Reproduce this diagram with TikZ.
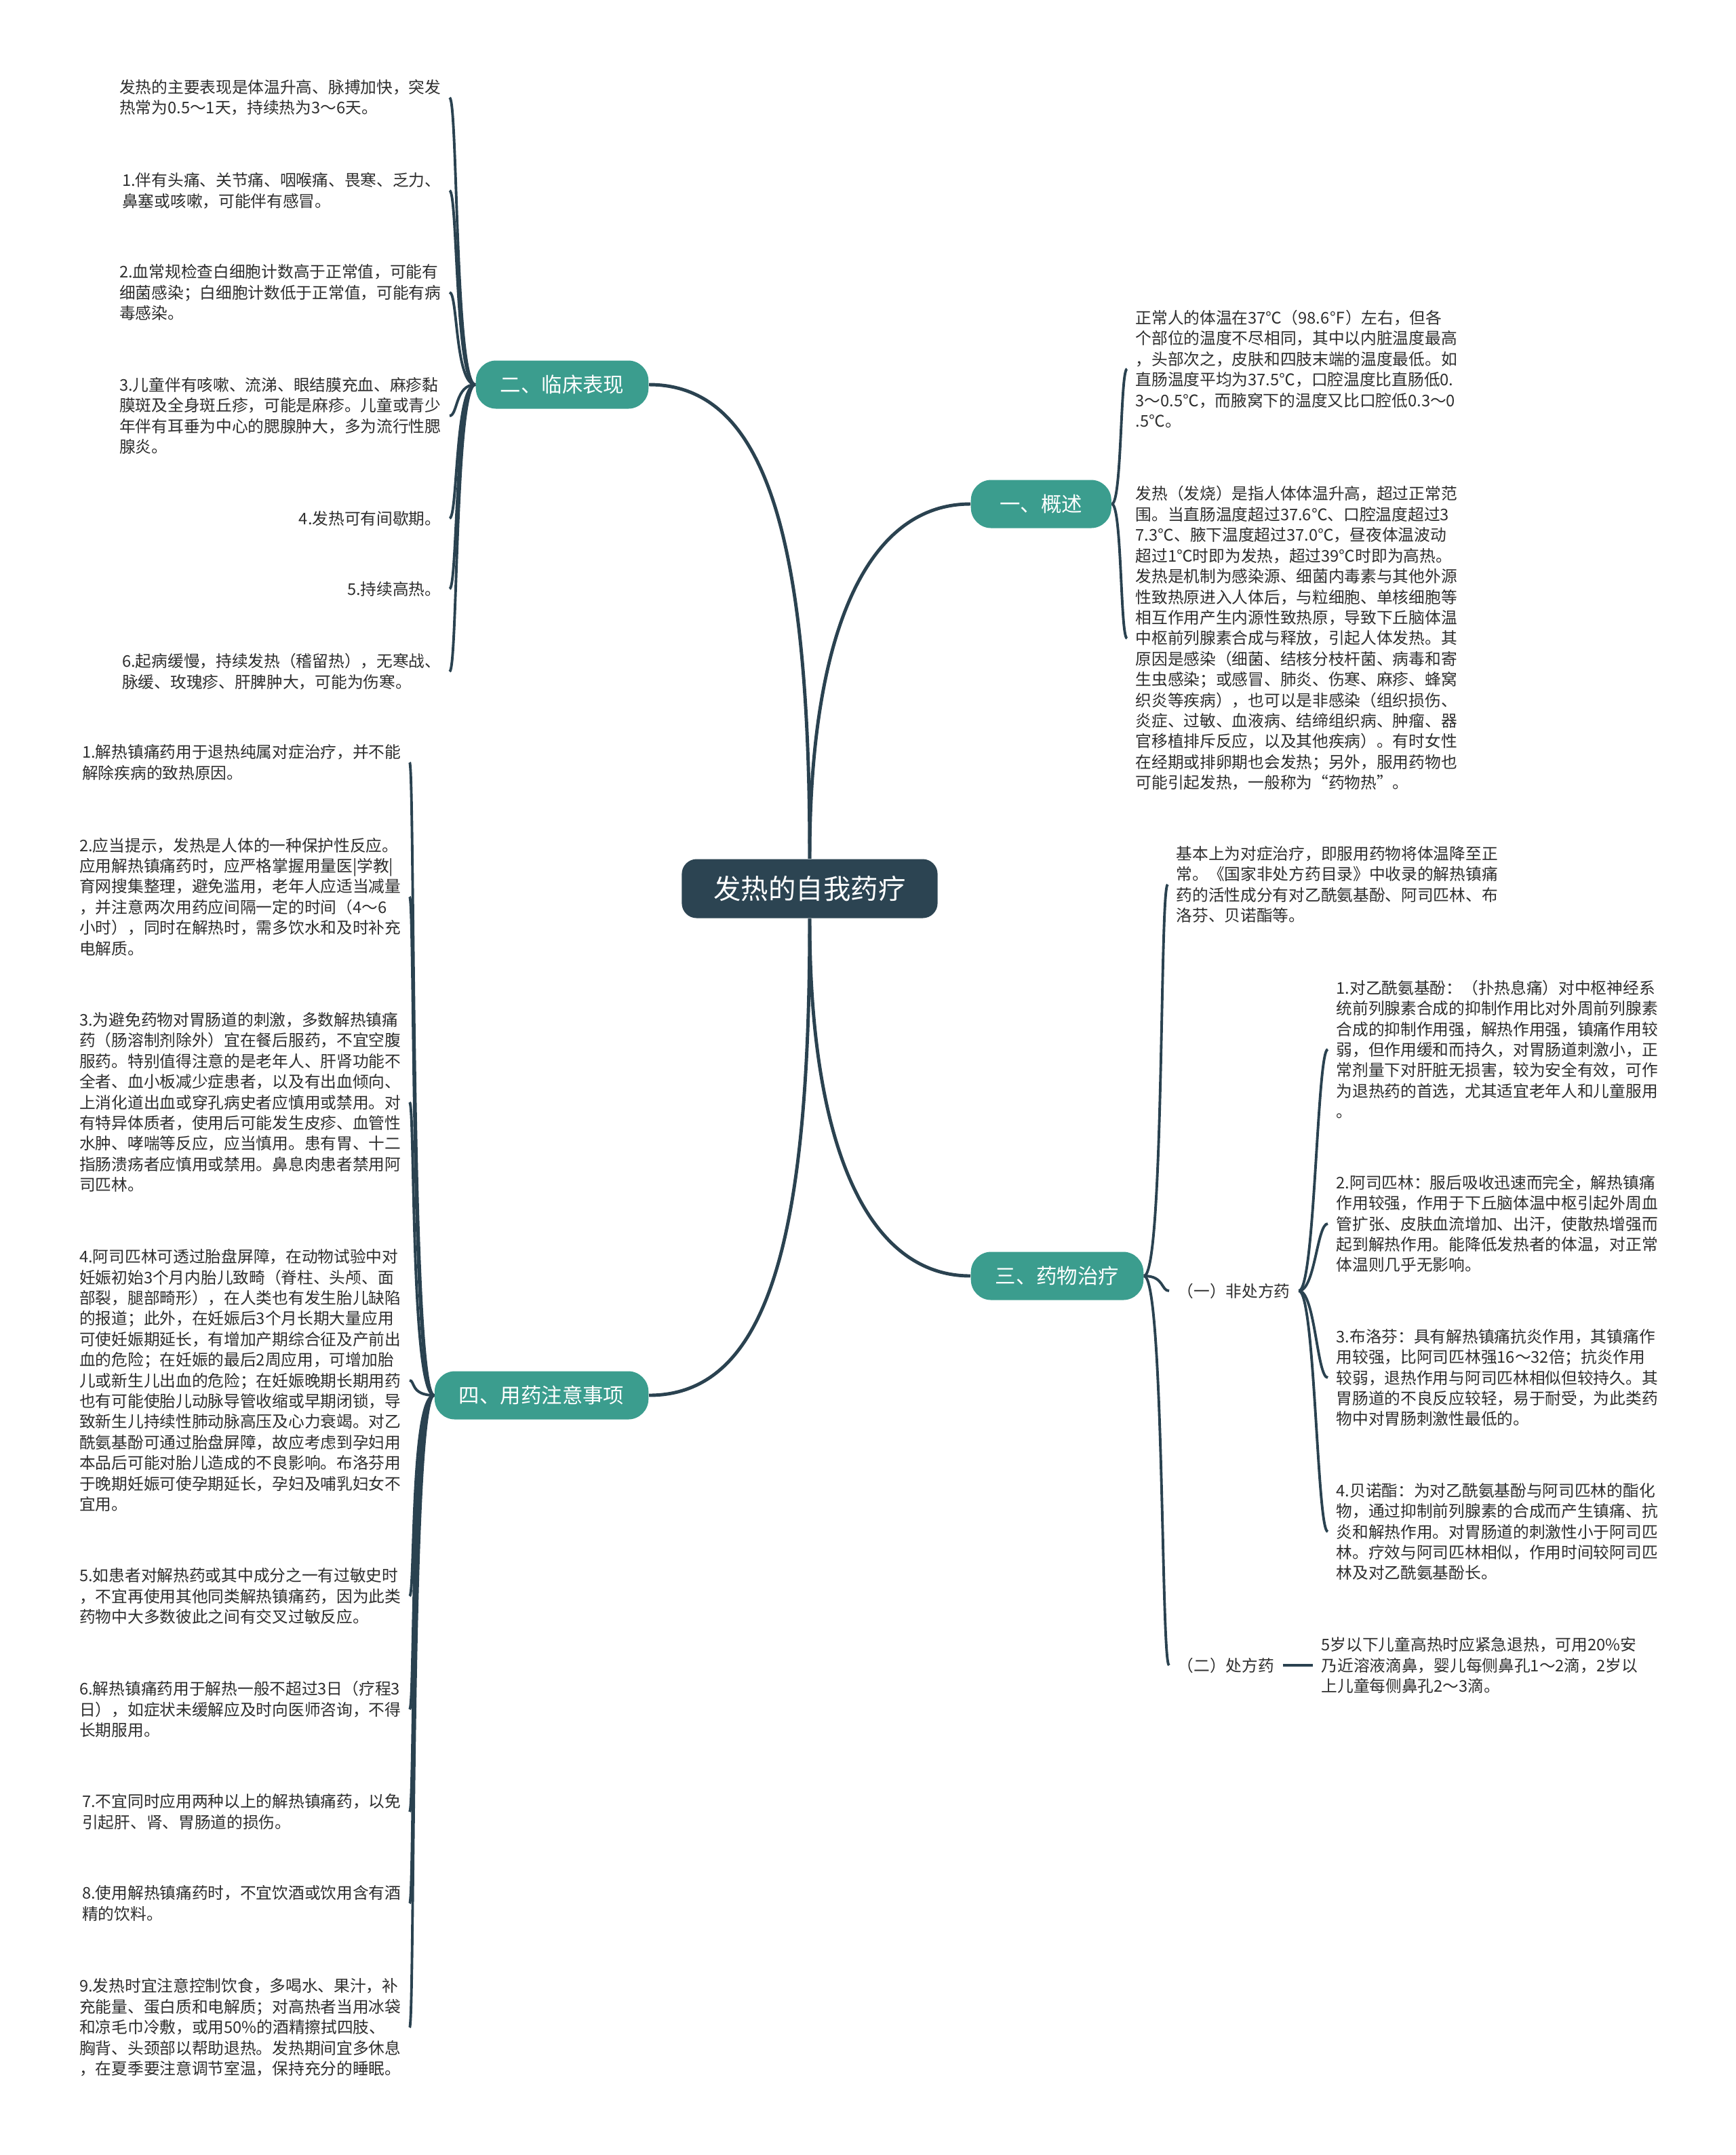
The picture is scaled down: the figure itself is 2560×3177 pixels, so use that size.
\documentclass[tikz,border=0pt]{standalone}
\usepackage{fontspec}
\setmainfont{Noto Sans CJK SC}
\usepackage{tikz}
\usetikzlibrary{calc}
\definecolor{rootcol}{HTML}{2C4452}
\definecolor{brcol}{HTML}{3B9D8E}
\definecolor{linecol}{HTML}{2A4250}
\definecolor{txtcol}{HTML}{2E2E2E}
\newcommand\leaffont{\fontsize{6.74pt}{8.65pt}\selectfont}
\newcommand\brlink[4]{
    \draw[link] (#1) .. controls +(#3,0) and +(#4,0) .. (#2);
}

\begin{document}
\begin{tikzpicture}[
        x=0.01cm, y=-0.01cm,
        R/.style={fill=rootcol, text=white, rounded corners=0.22cm, minimum width=3.77cm,
            minimum height=0.87cm, font=\fontsize{11.5pt}{13pt}\selectfont},
        B/.style={fill=brcol, text=white, rounded corners=0.3cm, inner xsep=0.36cm,
            minimum height=0.71cm, font=\fontsize{8.65pt}{10pt}\selectfont},
        L/.style={align=left, text=txtcol, inner xsep=0.12cm, inner ysep=0.05cm, font=\leaffont},
        link/.style={draw=linecol, line width=1.1pt},
        trunk/.style={draw=linecol, line width=1.4pt}
    ]

    \fill[white] (0,0) rectangle (2560,3177);
    \useasboundingbox (0,0) rectangle (2560,3177);

    \node[R] (root) at (1194,1310) {发热的自我药疗};
    \node[B, anchor=west, minimum width=2.07cm] (gs) at (1431,743) {一、概述};
    \node[B, anchor=east] (lc) at (957,567) {二、临床表现};
    \node[B, anchor=west] (yw) at (1431,1881) {三、药物治疗};
    \node[B, anchor=east] (zy) at (957,2057) {四、用药注意事项};

    \draw[trunk] (root.north) .. controls +(0,-340) and +(-150,0) .. (gs.west);
    \draw[trunk] (root.north) .. controls +(0,-457) and +(178,0) .. (lc.east);
    \draw[trunk] (root.south) .. controls +(0,340) and +(-150,0) .. (yw.west);
    \draw[trunk] (root.south) .. controls +(0,460) and +(180,0) .. (zy.east);

    % 一
    \node[L, anchor=west] (gs1) at (1662,544) {正常人的体温在37℃（98.6℉）左右，但各\\个部位的温度不尽相同，其中以内脏温度最高\\，头部次之，皮肤和四肢末端的温度最低。如\\直肠温度平均为37.5℃，口腔温度比直肠低0.\\3～0.5℃，而腋窝下的温度又比口腔低0.3～0\\.5℃。};
    \node[L, anchor=west] (gs2) at (1662,941) {发热（发烧）是指人体体温升高，超过正常范\\围。当直肠温度超过37.6℃、口腔温度超过3\\7.3℃、腋下温度超过37.0℃，昼夜体温波动\\超过1℃时即为发热，超过39℃时即为高热。\\发热是机制为感染源、细菌内毒素与其他外源\\性致热原进入人体后，与粒细胞、单核细胞等\\相互作用产生内源性致热原，导致下丘脑体温\\中枢前列腺素合成与释放，引起人体发热。其\\原因是感染（细菌、结核分枝杆菌、病毒和寄\\生虫感染；或感冒、肺炎、伤寒、麻疹、蜂窝\\织炎等疾病），也可以是非感染（组织损伤、\\炎症、过敏、血液病、结缔组织病、肿瘤、器\\官移植排斥反应，以及其他疾病）。有时女性\\在经期或排卵期也会发热；另外，服用药物也\\可能引起发热，一般称为“药物热”。};

    % 二
    \node[L, anchor=east] (lc0) at (663,144) {发热的主要表现是体温升高、脉搏加快，突发\\热常为0.5～1天，持续热为3～6天。};
    \node[L, anchor=east] (lc1) at (663,281) {1.伴有头痛、关节痛、咽喉痛、畏寒、乏力、\\鼻塞或咳嗽，可能伴有感冒。};
    \node[L, anchor=east] (lc2) at (663,431) {2.血常规检查白细胞计数高于正常值，可能有\\细菌感染；白细胞计数低于正常值，可能有病\\毒感染。};
    \node[L, anchor=east] (lc3) at (663,613) {3.儿童伴有咳嗽、流涕、眼结膜充血、麻疹黏\\膜斑及全身斑丘疹，可能是麻疹。儿童或青少\\年伴有耳垂为中心的腮腺肿大，多为流行性腮\\腺炎。};
    \node[L, anchor=east] (lc4) at (663,764) {4.发热可有间歇期。};
    \node[L, anchor=east] (lc5) at (663,868) {5.持续高热。};
    \node[L, anchor=east] (lc6) at (663,990) {6.起病缓慢，持续发热（稽留热），无寒战、\\脉缓、玫瑰疹、肝脾肿大，可能为伤寒。};

    % 三
    \node[L, anchor=west] (yw0) at (1722,1304) {基本上为对症治疗，即服用药物将体温降至正\\常。《国家非处方药目录》中收录的解热镇痛\\药的活性成分有对乙酰氨基酚、阿司匹林、布\\洛芬、贝诺酯等。};
    \node[L, anchor=west] (fcf) at (1724,1903) {（一）非处方药};
    \node[L, anchor=west] (cf) at (1724,2455) {（二）处方药};
    \node[L, anchor=west] (fcf1) at (1958,1547) {1.对乙酰氨基酚：（扑热息痛）对中枢神经系\\统前列腺素合成的抑制作用比对外周前列腺素\\合成的抑制作用强，解热作用强，镇痛作用较\\弱，但作用缓和而持久，对胃肠道刺激小，正\\常剂量下对肝脏无损害，较为安全有效，可作\\为退热药的首选，尤其适宜老年人和儿童服用\\。};
    \node[L, anchor=west] (fcf2) at (1958,1804) {2.阿司匹林：服后吸收迅速而完全，解热镇痛\\作用较强，作用于下丘脑体温中枢引起外周血\\管扩张、皮肤血流增加、出汗，使散热增强而\\起到解热作用。能降低发热者的体温，对正常\\体温则几乎无影响。};
    \node[L, anchor=west] (fcf3) at (1958,2031) {3.布洛芬：具有解热镇痛抗炎作用，其镇痛作\\用较强，比阿司匹林强16～32倍；抗炎作用\\较弱，退热作用与阿司匹林相似但较持久。其\\胃肠道的不良反应较轻，易于耐受，为此类药\\物中对胃肠刺激性最低的。};
    \node[L, anchor=west] (fcf4) at (1958,2258) {4.贝诺酯：为对乙酰氨基酚与阿司匹林的酯化\\物，通过抑制前列腺素的合成而产生镇痛、抗\\炎和解热作用。对胃肠道的刺激性小于阿司匹\\林。疗效与阿司匹林相似，作用时间较阿司匹\\林及对乙酰氨基酚长。};
    \node[L, anchor=west] (cf1) at (1936,2455) {5岁以下儿童高热时应紧急退热，可用20\%安\\乃近溶液滴鼻，婴儿每侧鼻孔1～2滴，2岁以\\上儿童每侧鼻孔2～3滴。};

    % 四
    \node[L, anchor=east] (zy1) at (604,1124) {1.解热镇痛药用于退热纯属对症治疗，并不能\\解除疾病的致热原因。};
    \node[L, anchor=east] (zy2) at (604,1322) {2.应当提示，发热是人体的一种保护性反应。\\应用解热镇痛药时，应严格掌握用量医|学教|\\育网搜集整理，避免滥用，老年人应适当减量\\，并注意两次用药应间隔一定的时间（4～6\\小时），同时在解热时，需多饮水和及时补充\\电解质。};
    \node[L, anchor=east] (zy3) at (604,1625) {3.为避免药物对胃肠道的刺激，多数解热镇痛\\药（肠溶制剂除外）宜在餐后服药，不宜空腹\\服药。特别值得注意的是老年人、肝肾功能不\\全者、血小板减少症患者，以及有出血倾向、\\上消化道出血或穿孔病史者应慎用或禁用。对\\有特异体质者，使用后可能发生皮疹、血管性\\水肿、哮喘等反应，应当慎用。患有胃、十二\\指肠溃疡者应慎用或禁用。鼻息肉患者禁用阿\\司匹林。};
    \node[L, anchor=east] (zy4) at (604,2035) {4.阿司匹林可透过胎盘屏障，在动物试验中对\\妊娠初始3个月内胎儿致畸（脊柱、头颅、面\\部裂，腿部畸形），在人类也有发生胎儿缺陷\\的报道；此外，在妊娠后3个月长期大量应用\\可使妊娠期延长，有增加产期综合征及产前出\\血的危险；在妊娠的最后2周应用，可增加胎\\儿或新生儿出血的危险；在妊娠晚期长期用药\\也有可能使胎儿动脉导管收缩或早期闭锁，导\\致新生儿持续性肺动脉高压及心力衰竭。对乙\\酰氨基酚可通过胎盘屏障，故应考虑到孕妇用\\本品后可能对胎儿造成的不良影响。布洛芬用\\于晚期妊娠可使孕期延长，孕妇及哺乳妇女不\\宜用。};
    \node[L, anchor=east] (zy5) at (604,2353) {5.如患者对解热药或其中成分之一有过敏史时\\，不宜再使用其他同类解热镇痛药，因为此类\\药物中大多数彼此之间有交叉过敏反应。};
    \node[L, anchor=east] (zy6) at (604,2520) {6.解热镇痛药用于解热一般不超过3日（疗程3\\日），如症状未缓解应及时向医师咨询，不得\\长期服用。};
    \node[L, anchor=east] (zy7) at (604,2671) {7.不宜同时应用两种以上的解热镇痛药，以免\\引起肝、肾、胃肠道的损伤。};
    \node[L, anchor=east] (zy8) at (604,2806) {8.使用解热镇痛药时，不宜饮酒或饮用含有酒\\精的饮料。};
    \node[L, anchor=east] (zy9) at (604,2989) {9.发热时宜注意控制饮食，多喝水、果汁，补\\充能量、蛋白质和电解质；对高热者当用冰袋\\和凉毛巾冷敷，或用50\%的酒精擦拭四肢、\\胸背、头颈部以帮助退热。发热期间宜多休息\\，在夏季要注意调节室温，保持充分的睡眠。};

    \foreach \n in {1,2} {\brlink{gs.east}{gs\n.west}{15}{-10}}
    \foreach \n in {0,...,6} {\brlink{lc.west}{lc\n.east}{-30}{12}}
    \foreach \n in {yw0,fcf,cf} {\brlink{yw.east}{\n.west}{30}{-12}}
    \foreach \n in {1,...,4} {\brlink{fcf.east}{fcf\n.west}{24}{-16}}
    \draw[link] (cf.east) -- (cf1.west);
    \foreach \n in {1,...,9} {\brlink{zy.west}{zy\n.east}{-35}{8}}
\end{tikzpicture}
\end{document}
